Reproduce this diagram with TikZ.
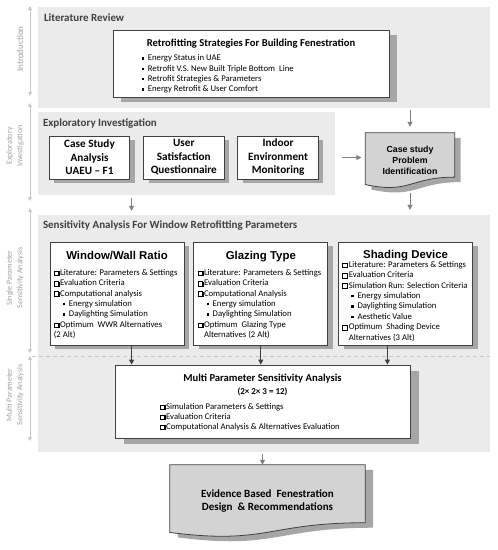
\documentclass[tikz,border=0pt]{standalone}
\usepackage{fontspec}
\setmainfont{Carlito}
\newfontfamily\arialfont{Liberation Sans}
\usetikzlibrary{positioning,calc,shadows,arrows.meta,backgrounds}

\definecolor{panelgray}{HTML}{EBEBEB}
\definecolor{shadowgray}{HTML}{A6A6A6}
\definecolor{docgray}{HTML}{D3D3D3}
\definecolor{linegray}{HTML}{404040}
\definecolor{titlegray}{HTML}{404040}
\definecolor{axisgray}{HTML}{C8C8C8}
\definecolor{labelgray}{HTML}{A0A0A0}
\definecolor{arrowgray}{HTML}{808080}

\newcommand{\chk}{\makebox[6.4pt][l]{\rlap{\hspace{0.9pt}\raisebox{-0.9pt}{\rule{5.1pt}{5.1pt}}}\fboxsep=0pt\fboxrule=0.45pt\fbox{\textcolor{white}{\rule{4.2pt}{4.2pt}}}}}
\newcommand{\sqb}{\raisebox{0.3ex}{\rule{2.3pt}{2.3pt}}\hspace{3.8pt}}
\newcommand{\subb}{\hspace*{9pt}\sqb}
\newcommand{\docshape}[2]{%
	\path[#2] (#1.north west) -- (#1.north east)
		-- ($(#1.north east)!0.8!(#1.south east)$)
		.. controls ($(#1.north)!0.8!(#1.south)$) and ($(#1.north)!1.107!(#1.south)$)
		.. ($(#1.north west)!0.934!(#1.south west)$) -- cycle;}

\begin{document}
\begin{tikzpicture}[x=1pt, y=-1pt,
	panel/.style = {fill=panelgray, inner sep=0pt, minimum width=452pt},
	paneltitle/.style = {inner sep=0pt, text height=8pt, text depth=2pt, text=titlegray,
		font=\fontsize{11}{13}\selectfont\bfseries},
	boxshadow/.style 2 args = {drop shadow={shadow xshift=#1, shadow yshift=#2,
		fill=shadowgray, opacity=1}},
	box/.style = {draw=linegray, line width=0.8pt, fill=white, inner sep=0pt},
	smallbox/.style = {box, boxshadow={5pt}{-4pt}, minimum width=80.5pt, minimum height=43pt,
		align=center, font=\fontsize{11.2}{13.5}\selectfont\bfseries},
	parbox/.style = {box, boxshadow={5pt}{-4pt}, minimum width=134pt, minimum height=103pt},
	wintitle/.style = {inner sep=0pt, text height=8.3pt, text depth=2pt,
		font=\arialfont\fontsize{11.4}{13}\selectfont\bfseries},
	boxhead/.style = {inner sep=0pt, text height=8pt, text depth=2pt,
		font=\fontsize{10.6}{12}\selectfont\bfseries},
	itemlist/.style = {inner sep=0pt, align=left, font=\fontsize{8.7}{10.4}\selectfont},
	docnode/.style = {inner sep=0pt, align=center},
	docfill/.style = {fill=docgray, draw=linegray, line width=0.8pt},
	docshadow/.style = {fill=shadowgray, transform canvas={shift={(#1)}}},
	flowarrow/.style = {draw=arrowgray, line width=1pt, -{Triangle[length=5pt,width=5pt]}},
	parrow/.style = {draw=linegray, line width=1pt, -{Triangle[length=5pt,width=5pt]}},
	axisarrow/.style = {draw=axisgray, line width=0.8pt,
		{Triangle[length=4pt,width=4pt]}-{Triangle[length=4pt,width=4pt]}},
	axislabel/.style = {rotate=90, align=center, text=labelgray, font=\fontsize{8}{10.5}\selectfont},
	sepline/.style = {draw=axisgray, line width=1pt, dash pattern=on 4pt off 3pt}]

	\useasboundingbox (0,0) rectangle (498,550);

	\foreach \ya/\yb in {6/96, 103/201, 208/353, 356/441}
		\draw[axisarrow] (30,\ya) -- (30,\yb);
	\node[axislabel, font=\fontsize{9}{10.5}\selectfont] (introlab) at (20,49) {Introduction};
	\node[axislabel] (explab) at (15,146) {Exploratory\\Investigation};
	\node[axislabel] (singlab) at (15,278) {Single Parameter\\Sensitivity Analysis};
	\node[axislabel] (multlab) at (15,395) {Multi Parameter\\Sensitivity Analysis};

	\node[panel, minimum height=101pt] (litpanel) at (264,57.5) {};
	\node[paneltitle, below right=6.5pt and 6pt of litpanel.north west] (littitle) {Literature Review};
	\node[box, boxshadow={8pt}{-5pt}, minimum width=276pt, minimum height=67pt] (retro) at (251,63.5) {};
	\node[boxhead, below=8.4pt of retro.north] (retrotitle) {Retrofitting Strategies For Building Fenestration};
	\node[itemlist, below right=25pt and 29pt of retro.north west] (retrolist) {\sqb Energy Status in UAE\\
		\sqb Retrofit V.S. New Built Triple Bottom\ \ Line\\
		\sqb Retrofit Strategies \& Parameters\\
		\sqb Energy Retrofit \& User Comfort};

	\node[panel, minimum width=297pt, minimum height=83pt] (explpanel) at (186.5,153.5) {};
	\node[paneltitle, below right=6pt and 5pt of explpanel.north west] (expltitle) {Exploratory Investigation};
	\node[smallbox] (casebox) at (89.5,157.5) {Case Study\\Analysis\\UAEU – F1};
	\node[smallbox, right=13pt of casebox] (userbox) {User\\Satisfaction\\Questionnaire};
	\node[smallbox, right=13pt of userbox] (indoorbox) {Indoor\\Environment\\Monitoring};

	\node[docnode, minimum width=89pt, minimum height=55pt,
		font=\arialfont\fontsize{8.8}{10.8}\selectfont\bfseries] (caseid) at (410,160.5) {Case study\\Problem\\Identification};

	\node[panel, minimum height=237pt] (senspanel) at (264,333.5) {};
	\node[paneltitle, below right=5.5pt and 5pt of senspanel.north west] (senstitle) {Sensitivity Analysis For Window Retrofitting Parameters};
	\coordinate (sepstart) at (32,356);
	\draw[sepline] (sepstart) -- (sepstart -| senspanel.east);

	\node[parbox] (wwr) at (117,293.5) {};
	\node[parbox, right=9pt of wwr] (gt) {};
	\node[parbox, right=10pt of gt] (sd) {};
	\node[wintitle, below=9pt of wwr.north] (wwrtitle) {Window/Wall Ratio};
	\node[wintitle, below=9pt of gt.north] (gttitle) {Glazing Type};
	\node[wintitle, below=8pt of sd.north] (sdtitle) {Shading Device};
	\node[itemlist, below right=27.5pt and 4pt of wwr.north west] (wwrlist) {\chk Literature: Parameters \& Settings\\
		\chk Evaluation Criteria\\
		\chk Computational analysis\\
		\subb Energy simulation\\
		\subb Daylighting Simulation\\
		\chk Optimum\ \ WWR Alternatives\\
		(2 Alt)};
	\node[itemlist, below right=27.5pt and 4pt of gt.north west] (gtlist) {\chk Literature: Parameters \& Settings\\
		\chk Evaluation Criteria\\
		\chk Computational Analysis\\
		\subb Energy simulation\\
		\subb Daylighting Simulation\\
		\chk Optimum\ \ Glazing Type\\
		\hspace*{6.4pt}Alternatives (2 Alt)};
	\node[itemlist, below right=19.5pt and 4pt of sd.north west] (sdlist) {\chk Literature: Parameters \& Settings\\
		\chk Evaluation Criteria\\
		\chk Simulation Run: Selection Criteria\\
		\subb Energy simulation\\
		\subb Daylighting Simulation\\
		\subb Aesthetic Value\\
		\chk Optimum\ \ Shading Device\\
		\hspace*{6.4pt}Alternatives (3 Alt)};

	\node[box, boxshadow={9pt}{-6pt}, minimum width=295pt, minimum height=73pt] (multi) at (262.5,401.5) {};
	\node[boxhead, below=8.8pt of multi.north] (multititle) {Multi Parameter Sensitivity Analysis};
	\node[inner sep=0pt, text height=7pt, text depth=2pt, font=\fontsize{9}{11}\selectfont\bfseries,
		below=3.7pt of multititle] (multisub) {(2× 2× 3 = 12)};
	\node[itemlist, font=\fontsize{8.7}{10}\selectfont, below right=38.5pt and 45pt of multi.north west] (multilist) {\chk Simulation Parameters \& Settings\\
		\chk Evaluation Criteria\\
		\chk Computational Analysis \& Alternatives Evaluation};

	\node[docnode, minimum width=195pt, minimum height=72pt,
		font=\fontsize{11}{13}\selectfont\bfseries] (findoc) at (267.5,501) {Evidence Based\ \ Fenestration\\Design\ \ \& Recommendations};

	\begin{scope}[on background layer]
		\docshape{caseid}{docshadow={6pt,-5pt}}
		\docshape{caseid}{docfill}
		\docshape{findoc}{docshadow={8pt,-5pt}}
		\docshape{findoc}{docfill}
	\end{scope}

	\coordinate (wwrin) at ([xshift=17pt]multi.north west);
	\coordinate (sdin) at ([xshift=-23pt]multi.north east);
	\draw[parrow] (wwr.south -| wwrin) -- (wwrin);
	\draw[parrow] (gt.south) -- (gt.south |- multi.north);
	\draw[parrow] (sd.south -| sdin) -- (sdin);

	\draw[flowarrow, shorten <=2pt, shorten >=6pt] (litpanel.south -| caseid.north) -- (caseid.north);
	\draw[flowarrow, shorten <=7pt, shorten >=4pt] (explpanel.east |- indoorbox) -- (caseid.west |- indoorbox);
	\draw[flowarrow, shorten <=5pt, shorten >=5pt] (caseid.south) -- (senspanel.north -| caseid.south);
	\draw[flowarrow, shorten <=3pt, shorten >=4pt] (explpanel.south -| wwrin) -- (senspanel.north -| wwrin);
	\draw[flowarrow, shorten <=2pt] (senspanel.south -| multi.south) -- (findoc.north -| multi.south);
\end{tikzpicture}
\end{document}
